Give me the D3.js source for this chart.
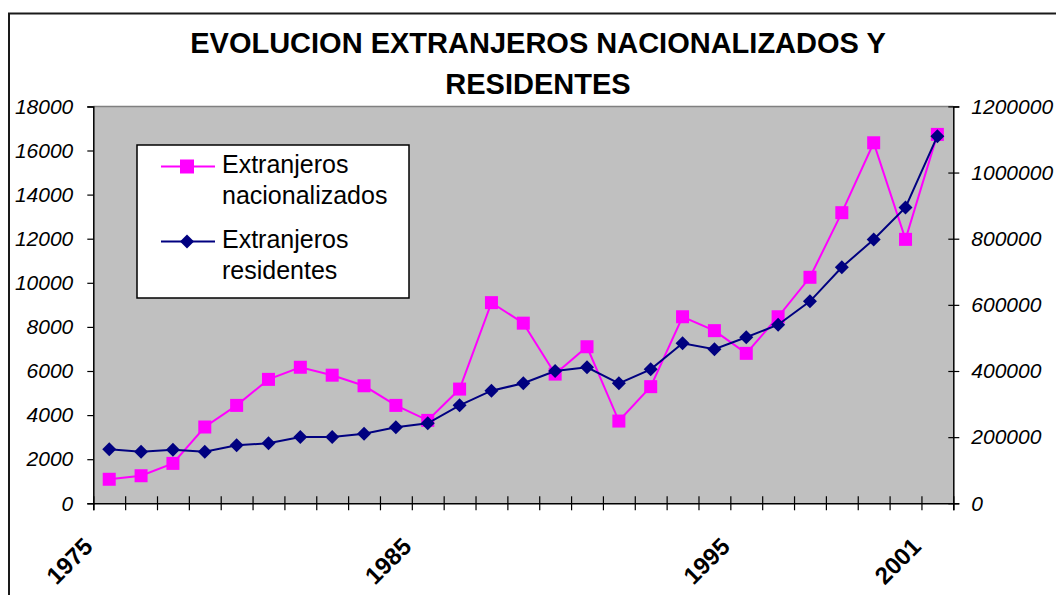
<!DOCTYPE html>
<html>
<head>
<meta charset="utf-8">
<script src="https://cdn.jsdelivr.net/npm/d3@7"></script>
<style>
    body { margin: 0; background: #fff; }
    svg { display: block; font-family: "Liberation Sans", Arial, sans-serif; }
</style>
</head>
<body>
<div class="res"></div>
<script>
/**
 * DATA
 */
const years = ['1975', '1976', '1977', '1978', '1979', '1980', '1981', '1982', '1983',
    '1984', '1985', '1986', '1987', '1988', '1989', '1990', '1991', '1992', '1993',
    '1994', '1995', '1996', '1997', '1998', '1999', '2000', '2001'];
// left axis
const nacionalizados = [1090, 1250, 1810, 3460, 4440, 5620, 6170, 5810, 5330, 4440,
    3760, 5180, 9100, 8170, 5860, 7100, 3730, 5290, 8460, 7830, 6800, 8460, 10250,
    13180, 16350, 11970, 16730];
// right axis
const residentes = [163300, 156000, 162000, 156000, 175400, 181400, 200500, 200500,
    210400, 229800, 241900, 296300, 340400, 362800, 400000, 411200, 362800, 405100,
    483700, 465600, 501900, 540000, 610700, 713500, 797900, 894300, 1109900];
const xLabels = ['1975', '1985', '1995', '2001'];
const leftTicks = [0, 2000, 4000, 6000, 8000, 10000, 12000, 14000, 16000, 18000];
const rightTicks = [0, 200000, 400000, 600000, 800000, 1000000, 1200000];
const seriesNames = [['Extranjeros', 'nacionalizados'], ['Extranjeros', 'residentes']];

const W = 1056, H = 595;
const plot = { left: 93.3, right: 953.3, top: 106.4, bottom: 503.3 };
const pink = '#ff00ff', navy = '#000080';

const svg = d3.select('div.res')
    .append('svg')
    .attr('width', W)
    .attr('height', H)

// chart frame (runs off the right / bottom edge)
svg.append('rect')
    .attr('x', 9).attr('y', 13.5)
    .attr('width', 1200).attr('height', 800)
    .attr('fill', '#fff')
    .attr('stroke', '#1a1a1a')
    .attr('stroke-width', 2)

/**
 * TITLE
 */
const title = svg.append('text')
    .attr('text-anchor', 'middle')
    .style('font-size', '29px')
    .style('font-weight', 'bold')
title.append('tspan').attr('x', 538).attr('y', 53).text('EVOLUCION EXTRANJEROS NACIONALIZADOS Y')
title.append('tspan').attr('x', 538).attr('y', 93.5).text('RESIDENTES')

/**
 * SCALES
 */
const xScale = d3.scaleBand()
    .domain(years)
    .range([plot.left, plot.right])
const xTicks = d3.scaleLinear()
    .domain([0, years.length])
    .range([plot.left, plot.right])
const yLeft = d3.scaleLinear()
    .domain([0, 18000])
    .range([plot.bottom, plot.top])
const yRight = d3.scaleLinear()
    .domain([0, 1200000])
    .range([plot.bottom, plot.top])

/**
 * PLOT AREA
 */
svg.append('rect')
    .attr('x', plot.left).attr('y', plot.top)
    .attr('width', plot.right - plot.left)
    .attr('height', plot.bottom - plot.top)
    .attr('fill', '#c0c0c0')
svg.append('line')
    .attr('x1', plot.left).attr('x2', plot.right)
    .attr('y1', plot.top).attr('y2', plot.top)
    .attr('stroke', '#808080')
    .attr('stroke-width', 1.5)

/**
 * AXES
 */
const leftAxis = svg.append('g')
    .attr('transform', `translate(${plot.left},0)`)
    .call(d3.axisLeft(yLeft).tickValues(leftTicks).tickFormat(d3.format('d')).tickSize(6).tickPadding(14))
const rightAxis = svg.append('g')
    .attr('transform', `translate(${plot.right},0)`)
    .call(d3.axisRight(yRight).tickValues(rightTicks).tickFormat(d3.format('d')).tickSize(6).tickPadding(12))
rightAxis.selectAll('.tick line').attr('x1', -5)

const bottomAxis = svg.append('g')
    .attr('transform', `translate(0,${plot.bottom})`)
    .call(d3.axisBottom(xTicks).tickValues(d3.range(years.length + 1)).tickSize(7).tickFormat(''))
bottomAxis.selectAll('.tick line').attr('y1', -7)

svg.selectAll('.domain').attr('stroke', '#000').attr('stroke-width', 1.5)
svg.selectAll('.tick line').attr('stroke', '#000').attr('stroke-width', 1.2)
svg.selectAll('.tick text')
    .attr('fill', '#000')
    .style('font-size', '21px')
    .style('font-style', 'italic')
    .style('font-family', '"Liberation Sans", Arial, sans-serif')

// year labels
svg.selectAll('text.year')
    .data(xLabels)
    .enter().append('text')
    .attr('class', 'year')
    .attr('text-anchor', 'end')
    .attr('transform', d => `translate(${xScale(d) + 1},548) rotate(-45)`)
    .style('font-size', '24px')
    .style('font-weight', 'bold')
    .text(d => d)

/**
 * LINES
 */
const nacLine = d3.line()
    .x((d, i) => xScale(years[i]) + xScale.bandwidth() / 2)
    .y(d => yLeft(d))
const resLine = d3.line()
    .x((d, i) => xScale(years[i]) + xScale.bandwidth() / 2)
    .y(d => yRight(d))

svg.append('path')
    .datum(nacionalizados)
    .attr('d', nacLine)
    .attr('fill', 'none')
    .attr('stroke', pink)
    .attr('stroke-width', 2)
svg.selectAll('rect.nac')
    .data(nacionalizados)
    .enter().append('rect')
    .attr('class', 'nac')
    .attr('x', (d, i) => xScale(years[i]) + xScale.bandwidth() / 2 - 6.5)
    .attr('y', d => yLeft(d) - 6.5)
    .attr('width', 13).attr('height', 13)
    .attr('fill', pink)

svg.append('path')
    .datum(residentes)
    .attr('d', resLine)
    .attr('fill', 'none')
    .attr('stroke', navy)
    .attr('stroke-width', 2)
const diamond = 'M0,-7L7,0L0,7L-7,0Z'
svg.selectAll('path.res')
    .data(residentes)
    .enter().append('path')
    .attr('class', 'res')
    .attr('d', diamond)
    .attr('transform', (d, i) => `translate(${xScale(years[i]) + xScale.bandwidth() / 2},${yRight(d)})`)
    .attr('fill', navy)

/**
 * LEGEND
 */
const legend = svg.append('g')
legend.append('rect')
    .attr('x', 137).attr('y', 145)
    .attr('width', 272).attr('height', 153)
    .attr('fill', '#fff')
    .attr('stroke', '#000')
    .attr('stroke-width', 1.5)

const entries = legend.selectAll('g.entry')
    .data(seriesNames)
    .enter().append('g')
    .attr('class', 'entry')
    .attr('transform', (d, i) => `translate(0,${i * 75})`)
entries.append('line')
    .attr('x1', 161).attr('x2', 215)
    .attr('y1', 166.5).attr('y2', 166.5)
    .attr('stroke', (d, i) => i ? navy : pink)
    .attr('stroke-width', 2)
entries.each(function (d, i) {
    const g = d3.select(this)
    if (i === 0) {
        g.append('rect').attr('x', 187 - 7).attr('y', 166.5 - 7)
            .attr('width', 14).attr('height', 14).attr('fill', pink)
    } else {
        g.append('path').attr('d', diamond)
            .attr('transform', 'translate(187,166.5)').attr('fill', navy)
    }
})
const labels = entries.append('text')
    .style('font-size', '25px')
labels.append('tspan').attr('x', 222).attr('y', 172.5).text(d => d[0])
labels.append('tspan').attr('x', 222).attr('y', 204).text(d => d[1])
</script>
</body>
</html>
